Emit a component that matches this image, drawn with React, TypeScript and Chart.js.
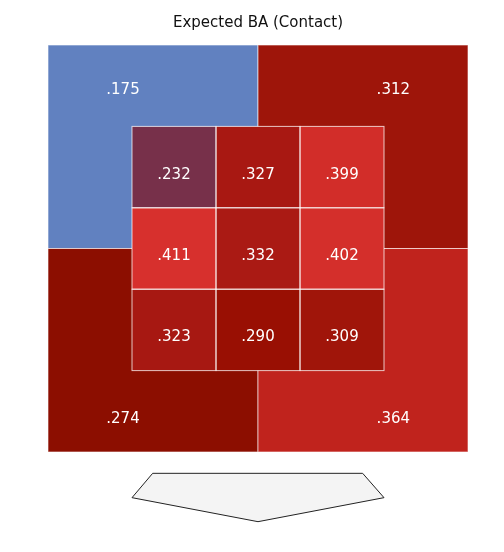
import React, { useEffect, useRef } from "react";
import { Chart, registerables } from "chart.js";

Chart.register(...registerables);

const TITLE = "Expected BA (Contact)";

// Outer quadrants: top-left, top-right, bottom-left, bottom-right
const outerValues = [0.175, 0.312, 0.274, 0.364];
const outerColors = ["#6181C0", "#9E150A", "#8C0E00", "#C0231D"];
// Outer quadrant extents in zone units [x0, x1, y0, y1]
const outerRects = [
  [-1, 1.5, 1.5, 4],
  [1.5, 4, 1.5, 4],
  [-1, 1.5, -1, 1.5],
  [1.5, 4, -1, 1.5],
];
const outerLabelPos = [
  [-0.107, 3.545],
  [3.111, 3.545],
  [-0.107, -0.5],
  [3.111, -0.5],
];

// Inner 3x3 zone, top row first
const innerValues = [
  [0.232, 0.327, 0.399],
  [0.411, 0.332, 0.402],
  [0.323, 0.29, 0.309],
];
const innerColors = [
  ["#77304A", "#A81812", "#D22D29"],
  ["#D7302D", "#AA1A14", "#D42F2B"],
  ["#A71812", "#990F03", "#A0150A"],
];

// Home plate outline (zone units)
const plateX = [0.246, 2.746, 3.0, 1.5, 0.0];
const plateY = [-1.262, -1.262, -1.561, -1.856, -1.561];

const fmt = (v: number) => v.toFixed(3).replace(/^0/, "");

const zonePlugin = {
  id: "zone",
  afterDatasetsDraw(chart: any) {
    const { ctx } = chart;
    const xs = chart.scales.x;
    const ys = chart.scales.y;
    const px = (v: number) => xs.getPixelForValue(v);
    const py = (v: number) => ys.getPixelForValue(v);
    ctx.save();
    ctx.font = "15px 'DejaVu Sans', Verdana, sans-serif";
    ctx.textAlign = "center";
    ctx.textBaseline = "alphabetic";

    // outer quadrants
    outerRects.forEach((r, i) => {
      const x0 = px(r[0]), x1 = px(r[1]), y0 = py(r[3]), y1 = py(r[2]);
      ctx.fillStyle = outerColors[i];
      ctx.fillRect(x0, y0, x1 - x0, y1 - y0);
      ctx.strokeStyle = "rgba(255,255,255,0.6)";
      ctx.lineWidth = 1;
      ctx.strokeRect(x0, y0, x1 - x0, y1 - y0);
    });
    outerValues.forEach((v, i) => {
      ctx.fillStyle = "#ffffff";
      ctx.fillText(fmt(v), px(outerLabelPos[i][0]), py(outerLabelPos[i][1]) + 11.5);
    });

    // inner grid
    innerValues.forEach((row, r) => {
      row.forEach((v, c) => {
        const x0 = px(c), x1 = px(c + 1), y0 = py(3 - r), y1 = py(2 - r);
        ctx.fillStyle = innerColors[r][c];
        ctx.fillRect(x0, y0, x1 - x0, y1 - y0);
      });
    });
    innerValues.forEach((row, r) => {
      row.forEach((v, c) => {
        const x0 = px(c), x1 = px(c + 1), y0 = py(3 - r), y1 = py(2 - r);
        ctx.strokeStyle = "rgba(255,255,255,0.75)";
        ctx.lineWidth = 1;
        ctx.strokeRect(x0, y0, x1 - x0, y1 - y0);
        ctx.fillStyle = "#ffffff";
        ctx.fillText(fmt(v), (x0 + x1) / 2, (y0 + y1) / 2 + 11.5);
      });
    });

    // home plate
    ctx.beginPath();
    plateX.forEach((x, i) => {
      if (i === 0) ctx.moveTo(px(x), py(plateY[i]));
      else ctx.lineTo(px(x), py(plateY[i]));
    });
    ctx.closePath();
    ctx.fillStyle = "#f4f4f4";
    ctx.fill();
    ctx.strokeStyle = "#222";
    ctx.lineWidth = 1;
    ctx.stroke();
    ctx.restore();
  },
};

export default function App() {
  const ref = useRef<HTMLCanvasElement | null>(null);
  useEffect(() => {
    if (!ref.current) return;
    const chart = new Chart(ref.current, {
      type: "scatter",
      data: { datasets: [{ data: [], pointRadius: 0 }] },
      options: {
        animation: false,
        responsive: false,
        layout: { padding: { left: 48, right: 36, top: 0, bottom: 18.6 } },
        scales: {
          x: { type: "linear", min: -1, max: 4, display: false },
          y: { type: "linear", min: -2, max: 4, display: false },
        },
        plugins: {
          legend: { display: false },
          tooltip: { enabled: false },
          title: {
            display: true,
            text: TITLE,
            color: "#111",
            font: { family: "'DejaVu Sans', Verdana, sans-serif", size: 15, weight: "normal" },
            padding: { top: 14, bottom: 13 },
          },
        },
      },
      plugins: [zonePlugin],
    });
    return () => chart.destroy();
  }, []);
  return (
    <div style={{ position: "fixed", left: 0, top: 0, width: 504, height: 552, background: "#fff" }}>
      <canvas ref={ref} width={504} height={552} />
    </div>
  );
}
